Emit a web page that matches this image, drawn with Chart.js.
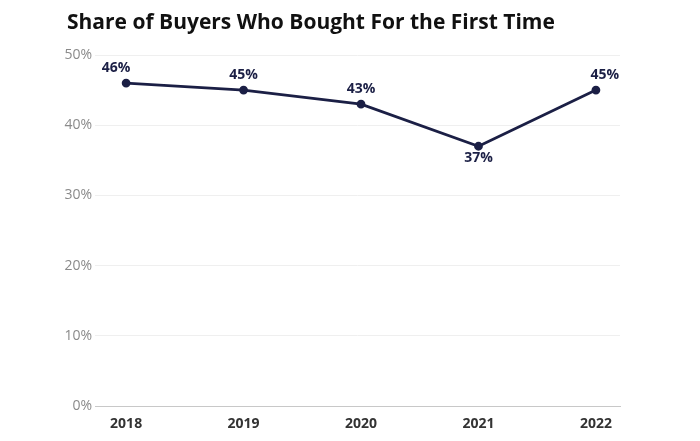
<!DOCTYPE html>
<html><head><meta charset="utf-8">
<script src="https://cdn.jsdelivr.net/npm/chart.js@4"></script>
<style>html,body{margin:0;padding:0;background:#fff}#wrap{width:700px;height:441px;position:relative}</style>
</head><body><div id="wrap"><canvas id="c" width="700" height="441"></canvas></div>
<script>
const chartTitle = 'Share of Buyers Who Bought For the First Time';
const years = ['2018', '2019', '2020', '2021', '2022'];
const shares = [46, 45, 43, 37, 45];
const labelBelow = [false, false, false, true, false];
const labelShiftX = [-10, 0, 0, 0, 9];

const navy = '#1b1f45';

const titlePlugin = {
  id: 'titleText',
  afterDraw(chart) {
    const ctx = chart.ctx;
    ctx.save();
    ctx.fillStyle = '#111';
    ctx.font = 'bold 21px "Open Sans", sans-serif';
    ctx.textBaseline = 'alphabetic';
    ctx.textAlign = 'left';
    ctx.fillText(chartTitle, 67, 29);
    ctx.restore();
  }
};
const valueLabels = {
  id: 'valueLabels',
  afterDatasetsDraw(chart) {
    const ctx = chart.ctx;
    const meta = chart.getDatasetMeta(0);
    ctx.save();
    ctx.fillStyle = navy;
    ctx.font = 'bold 14px "Open Sans", sans-serif';
    ctx.textAlign = 'center';
    ctx.textBaseline = 'middle';
    meta.data.forEach((pt, i) => {
      const dy = labelBelow[i] ? 12 : -15;
      ctx.fillText(shares[i] + '%', pt.x + labelShiftX[i], pt.y + dy);
    });
    ctx.restore();
  }
};

new Chart(document.getElementById('c'), {
  type: 'line',
  data: {
    datasets: [{
      data: years.map((y, i) => ({x: Number(y), y: shares[i]})),
      borderColor: navy,
      backgroundColor: navy,
      borderWidth: 2.8,
      pointRadius: 3,
      pointHoverRadius: 3,
      tension: 0
    }]
  },
  options: {
    responsive: false,
    animation: false,
    layout: {padding: {top: 55, right: 80, left: 0, bottom: 0}},
    plugins: {legend: {display: false}, tooltip: {enabled: false}},
    scales: {
      x: {
        type: 'linear',
        min: 2017.735,
        max: 2022.205,
        afterFit(s) { s.height = 35; },
        ticks: {
          stepSize: 1,
          includeBounds: false,
          autoSkip: false,
          color: '#333',
          font: {family: '"Open Sans", sans-serif', size: 14, weight: 'bold'},
          padding: 10,
          callback: v => String(v)
        },
        grid: {display: false, drawTicks: false},
        border: {display: true, color: '#c8c8c8', dash: [2, 2], width: 1}
      },
      y: {
        min: 0,
        max: 50,
        afterFit(s) { s.width = 95; },
        ticks: {
          stepSize: 10,
          color: '#8a8a8a',
          font: {family: '"Open Sans", sans-serif', size: 14},
          padding: 3,
          callback: v => v + '%'
        },
        grid: {color: ctx => ctx.tick.value === 0 ? 'rgba(0,0,0,0)' : '#efefef', drawTicks: false},
        border: {display: false}
      }
    }
  },
  plugins: [titlePlugin, valueLabels]
});
</script></body></html>
